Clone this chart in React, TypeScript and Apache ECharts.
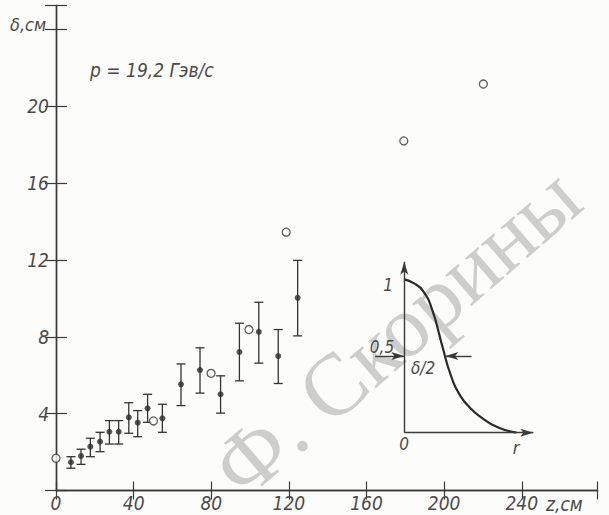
import React, { useEffect, useRef } from 'react';
import * as echarts from 'echarts';

// main axes
const xTicks = [0, 40, 80, 120, 160, 200, 240];
const yTicks = [4, 8, 12, 16, 20];

// measured points with error bars
const measZ = [7.7, 12.9, 17.7, 22.7, 27.5, 32.3, 37.5, 42.1, 47.2, 54.8, 64.4, 74.2, 84.8, 94.5, 104.5, 114.5, 124.5];
const measDelta = [1.47, 1.8, 2.28, 2.54, 3.06, 3.06, 3.81, 3.53, 4.28, 3.76, 5.53, 6.27, 5.01, 7.21, 8.26, 7.0, 10.03];
const errLow = [1.16, 1.36, 1.76, 2.02, 2.42, 2.42, 2.98, 2.8, 3.55, 3.03, 4.42, 5.07, 4.03, 5.71, 6.63, 5.57, 8.05];
const errHigh = [1.76, 2.15, 2.72, 3.03, 3.64, 3.64, 4.57, 4.16, 5.01, 4.49, 6.59, 7.43, 5.97, 8.71, 9.8, 8.38, 11.98];

// open circles
const openZ = [0, 50.2, 79.9, 99.4, 118.6, 179.2, 220.2];
const openDelta = [1.68, 3.62, 6.1, 8.38, 13.45, 18.2, 21.16];

// inset profile (r in units of delta/2)
const profileR = [0, 0.25, 0.5, 0.75, 1.0, 1.25, 1.5, 1.75, 2.0, 2.5, 3.0];
const profileF = [1.0, 0.975, 0.925, 0.8, 0.58, 0.37, 0.24, 0.165, 0.11, 0.035, 0.0];

const FONT = "'Liberation Sans Narrow', 'DejaVu Sans Condensed', 'Liberation Sans', sans-serif";
const INK = '#3a3a3a';
const TXT = '#4a4a4a';

export default function App() {
  const ref = useRef<HTMLDivElement>(null);
  useEffect(() => {
    if (!ref.current) return;
    const chart = echarts.init(ref.current, null, { renderer: 'svg' });
    const axisLine = { show: true, lineStyle: { color: INK, width: 1.4 } };
    const tickStyle = { color: INK, width: 1.2 };
    const labelStyle = { color: TXT, fontFamily: FONT, fontStyle: 'italic' as const, fontSize: 19 };
    const arrowEnd = (c: number[]) => ({ coord: c, symbol: 'arrow', symbolSize: [6, 13] });
    const plain = (c: number[]) => ({ coord: c, symbol: 'none' });
    chart.setOption({
      animation: false,
      backgroundColor: '#fcfcfa',
      grid: [
        { left: 56, right: 11.5, top: 5.5, bottom: 24.5 },
        { left: 370.6, top: 261.7, width: 162.7, height: 171 },
      ],
      xAxis: [
        {
          type: 'value', gridIndex: 0, position: 'bottom', min: 0, max: 279, interval: 40,
          axisLine, splitLine: { show: false },
          axisTick: { show: true, inside: true, length: 9, lineStyle: tickStyle },
          axisLabel: { ...labelStyle, margin: 3, formatter: (v: number) => (xTicks.includes(v) ? String(v) : '') },
        },
        {
          type: 'value', gridIndex: 0, position: 'top', min: 0, max: 279, interval: 40,
          axisLine, splitLine: { show: false },
          axisTick: { show: true, inside: true, length: 9, lineStyle: tickStyle },
          axisLabel: { show: false },
        },
        {
          type: 'value', gridIndex: 1, min: -0.9, max: 3.45, show: false,
        },
      ],
      yAxis: [
        {
          type: 'value', gridIndex: 0, position: 'left', min: 0, max: 25.25, interval: 4,
          axisLine, splitLine: { show: false },
          axisTick: { show: true, inside: true, length: 11, lineStyle: tickStyle },
          axisLabel: { ...labelStyle, margin: 7, formatter: (v: number) => (yTicks.includes(v) ? String(v) : '') },
        },
        {
          type: 'value', gridIndex: 0, position: 'right', min: 0, max: 25.25, interval: 4,
          axisLine, splitLine: { show: false },
          axisTick: { show: true, inside: true, length: 11, lineStyle: tickStyle },
          axisLabel: { show: false },
        },
        {
          type: 'value', gridIndex: 1, min: 0, max: 1.115, show: false,
        },
      ],
      graphic: [
        {
          type: 'text', x: 396, y: 332, rotation: 0.71, z: -10,
          style: {
            text: 'Ф. Скорины', fontFamily: "'Liberation Serif', 'DejaVu Serif', serif", fontSize: 88,
            fill: 'rgba(165,165,165,0.55)', align: 'center', verticalAlign: 'middle',
          },
        },
        { type: 'text', x: 10, y: 24, style: { text: 'δ,см', ...labelStyle, fontSize: 18, fill: TXT, verticalAlign: 'middle' } },
        { type: 'text', x: 90, y: 70, style: { text: 'p = 19,2 Гэв/с', ...labelStyle, fontSize: 19, fill: TXT, verticalAlign: 'middle' } },
        { type: 'text', x: 546, y: 504, style: { text: 'z,см', ...labelStyle, fontSize: 19, fill: TXT, verticalAlign: 'middle' } },
        { type: 'text', x: 388, y: 285, style: { text: '1', ...labelStyle, fontSize: 17, fill: TXT, align: 'center', verticalAlign: 'middle' } },
        { type: 'text', x: 382, y: 347, style: { text: '0,5', ...labelStyle, fontSize: 17, fill: TXT, align: 'center', verticalAlign: 'middle' } },
        { type: 'text', x: 423, y: 368, style: { text: 'δ/2', ...labelStyle, fontSize: 17, fill: TXT, align: 'center', verticalAlign: 'middle' } },
        { type: 'text', x: 404, y: 444, style: { text: '0', ...labelStyle, fontSize: 17, fill: TXT, align: 'center', verticalAlign: 'middle' } },
        { type: 'text', x: 516, y: 447, style: { text: 'r', ...labelStyle, fontSize: 18, fill: TXT, align: 'center', verticalAlign: 'middle' } },
      ],
      series: [
        {
          type: 'custom', xAxisIndex: 0, yAxisIndex: 0,
          encode: { x: 0, y: [1, 2] },
          data: measZ.map((z, i) => [z, errLow[i], errHigh[i]]),
          renderItem: (_p: any, api: any) => {
            const x = api.value(0);
            const lo = api.coord([x, api.value(1)]);
            const hi = api.coord([x, api.value(2)]);
            const w = 4.5;
            const style = { stroke: '#333', lineWidth: 1.3 };
            return {
              type: 'group',
              children: [
                { type: 'line', shape: { x1: lo[0], y1: lo[1], x2: hi[0], y2: hi[1] }, style },
                { type: 'line', shape: { x1: lo[0] - w, y1: lo[1], x2: lo[0] + w, y2: lo[1] }, style },
                { type: 'line', shape: { x1: hi[0] - w, y1: hi[1], x2: hi[0] + w, y2: hi[1] }, style },
              ],
            };
          },
        },
        {
          type: 'scatter', xAxisIndex: 0, yAxisIndex: 0, symbol: 'circle', symbolSize: 6,
          itemStyle: { color: '#2b2b2b' },
          data: measZ.map((z, i) => [z, measDelta[i]]),
        },
        {
          type: 'scatter', xAxisIndex: 0, yAxisIndex: 0, symbol: 'circle', symbolSize: 8,
          itemStyle: { color: '#fcfcfa', borderColor: '#333', borderWidth: 1.3 },
          data: openZ.map((z, i) => [z, openDelta[i]]),
        },
        {
          type: 'line', xAxisIndex: 2, yAxisIndex: 2, smooth: 0.5, symbol: 'none',
          lineStyle: { color: '#2a2a2a', width: 2.2 },
          data: profileR.map((r, i) => [r, profileF[i]]),
          markLine: {
            silent: true, animation: false,
            label: { show: false },
            lineStyle: { color: INK, width: 1.4, type: 'solid' },
            emphasis: { disabled: true },
            data: [
              [plain([0, 0]), arrowEnd([0, 1.115])],
              [plain([0, 0]), arrowEnd([3.45, 0])],
              [plain([-0.78, 0.5]), arrowEnd([0, 0.5])],
              [plain([1.8, 0.5]), arrowEnd([1.1, 0.5])],
            ],
          },
        },
      ],
    });
    return () => chart.dispose();
  }, []);
  return <div ref={ref} style={{ position: 'fixed', left: 0, top: 0, width: 609, height: 515 }} />;
}
